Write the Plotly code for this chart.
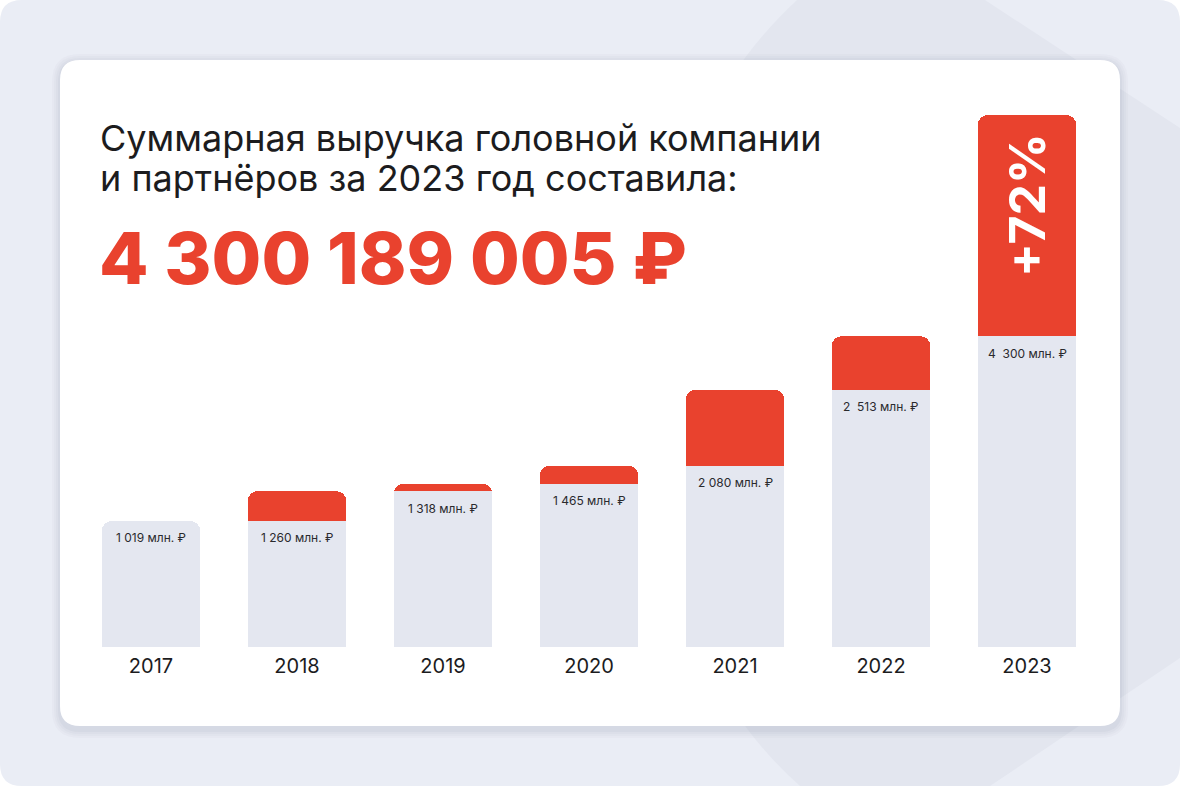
import plotly.graph_objects as go

# ---- data ----
years = ["2017", "2018", "2019", "2020", "2021", "2022", "2023"]
revenue = [1019, 1260, 1318, 1465, 2080, 2513, 4300]          # млн. ₽
value_labels = ["1 019 млн. ₽", "1 260 млн. ₽", "1 318 млн. ₽", "1 465 млн. ₽",
                "2 080 млн. ₽", "2\u00a0 513 млн. ₽", "4\u00a0 300 млн. ₽"]
growth_label = "+72%"
title_line1 = "Суммарная выручка головной компании"
title_line2 = "и партнёров за 2023 год составила:"
total_text = "4 300 189 005 ₽"

# previous-year level (grey part) and increment over it (red part)
prev_level = [revenue[0]] + revenue[:-1]
increment = [None] + [revenue[i] - revenue[i - 1] for i in range(1, len(revenue))]

RED = "#E9422E"
GREY_BAR = "#E4E7F0"
BG = "#EAEDF5"
DECOR = "#E3E6EF"
TXT = "#1c1c1e"
FONT = "Inter"

W, H = 1180, 786
L, R, T, B = 78, 80, 115, 139
PW, PH = W - L - R, H - T - B


def px(x):
    return (x - L) / PW


def py(y):
    return (H - B - y) / PH


def rrect(x0, y0, x1, y1, r):
    return (f"M {px(x0 + r)},{py(y0)} L {px(x1 - r)},{py(y0)} "
            f"Q {px(x1)},{py(y0)} {px(x1)},{py(y0 + r)} L {px(x1)},{py(y1 - r)} "
            f"Q {px(x1)},{py(y1)} {px(x1 - r)},{py(y1)} L {px(x0 + r)},{py(y1)} "
            f"Q {px(x0)},{py(y1)} {px(x0)},{py(y1 - r)} L {px(x0)},{py(y0 + r)} "
            f"Q {px(x0)},{py(y0)} {px(x0 + r)},{py(y0)} Z")


fig = go.Figure()
fig.add_trace(go.Bar(x=years, y=prev_level, marker=dict(color=GREY_BAR, line=dict(width=0)),
                     hoverinfo="skip", showlegend=False))
fig.add_trace(go.Bar(x=years, y=increment, marker=dict(color=RED, line=dict(width=0)),
                     hoverinfo="skip", showlegend=False))

shapes = []
# outer page
shapes.append(dict(type="path", path=rrect(0, 0, W, H, 22), xref="paper", yref="paper",
                   fillcolor=BG, line=dict(width=0), layer="below"))
# decorative background shape
deco = (f"M {px(797)},{py(0)} L {px(985)},{py(0)} L {px(1180)},{py(128)} "
        f"L {px(1180)},{py(658)} L {px(990)},{py(786)} L {px(800)},{py(786)} "
        f"C {px(590)},{py(600)} {px(590)},{py(190)} {px(797)},{py(0)} Z")
shapes.append(dict(type="path", path=deco, xref="paper", yref="paper",
                   fillcolor=DECOR, line=dict(width=0), layer="below"))
# card shadow
for i, op in enumerate([0.05, 0.06, 0.08, 0.10]):
    d = 8 - 2 * i
    shapes.append(dict(type="path", path=rrect(60 - d, 62 - d, 1120 + d, 730 + d, 20 + d),
                       xref="paper", yref="paper", fillcolor=f"rgba(160,166,185,{op})",
                       line=dict(width=0), layer="below"))
# card
shapes.append(dict(type="path", path=rrect(60, 60, 1120, 726, 20), xref="paper", yref="paper",
                   fillcolor="white", line=dict(width=0), layer="below"))

annotations = []
annotations.append(dict(text=title_line1, xref="paper", yref="paper", x=px(98), y=py(138),
                        xanchor="left", yanchor="middle", align="left", showarrow=False,
                        font=dict(family=FONT, size=36, color=TXT)))
annotations.append(dict(text=title_line2, xref="paper", yref="paper", x=px(98), y=py(178),
                        xanchor="left", yanchor="middle", align="left", showarrow=False,
                        font=dict(family=FONT, size=36, color=TXT)))
annotations.append(dict(text=total_text, xref="paper", yref="paper", x=px(97), y=py(257),
                        xanchor="left", yanchor="middle", align="left", showarrow=False,
                        font=dict(family=FONT, size=72, color=RED, weight=800)))
# category axis positions are given as category indices
for i, (lvl, lab) in enumerate(zip(prev_level, value_labels)):
    annotations.append(dict(text=lab, x=i, y=lvl, xref="x", yref="y", yshift=-17,
                            xanchor="center", yanchor="middle", showarrow=False,
                            font=dict(family=FONT, size=12, color="#2a2a2e")))
annotations.append(dict(text=growth_label, x=len(years) - 1, y=revenue[-1], xref="x", yref="y",
                        yshift=-90, textangle=-90, xanchor="center", yanchor="middle",
                        showarrow=False, font=dict(family=FONT, size=50, color="white", weight=700)))

fig.update_layout(
    width=W, height=H,
    margin=dict(l=L, r=R, t=T, b=B),
    paper_bgcolor="white", plot_bgcolor="rgba(0,0,0,0)",
    barmode="stack", bargap=0.325, barcornerradius=10,
    shapes=shapes, annotations=annotations,
    xaxis=dict(type="category", range=[-0.5, 6.5], showgrid=False, zeroline=False,
               showline=False, ticks="", tickfont=dict(family=FONT, size=20, color=TXT),
               ticklabelstandoff=5, fixedrange=True),
    yaxis=dict(range=[0, 4300], visible=False, showgrid=False, zeroline=False, fixedrange=True),
    font=dict(family=FONT),
)

fig.write_html("out.html", config={"displayModeBar": False})
